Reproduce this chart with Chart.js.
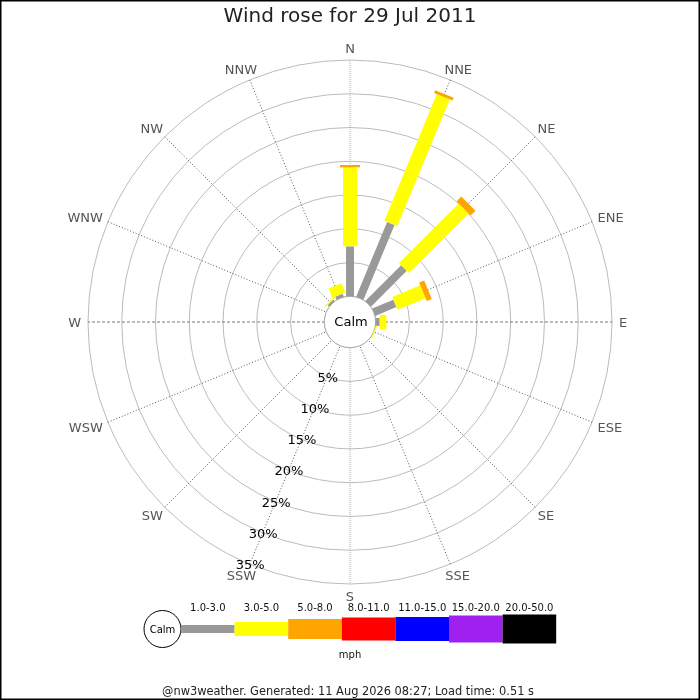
<!DOCTYPE html>
<html>
<head>
<meta charset="utf-8">
<script src="https://cdn.jsdelivr.net/npm/chart.js@4/dist/chart.umd.min.js"></script>
<style>
html,body{margin:0;padding:0;background:#fff;}
#wrap{width:700px;height:700px;position:relative;}
</style>
</head>
<body>
<div id="wrap"><canvas id="c" width="700" height="700"></canvas></div>
<script>
// ---- data ----
const directions = ['N','NNE','NE','ENE','E','ESE','SE','SSE','S','SSW','SW','WSW','W','WNW','NW','NNW'];
const speedBands = ['1.0-3.0','3.0-5.0','5.0-8.0','8.0-11.0','11.0-15.0','15.0-20.0','20.0-50.0'];
const bandColors = ['#999999','#ffff00','#ffa500','#ff0000','#0000ff','#a020f0','#000000'];
// percentage of time per direction, for each speed band (mph)
const band1to3   = [7.4, 12.0, 7.5, 3.4, 0.6, 0,    0, 0, 0, 0, 0, 0, 0, 0, 0.3, 0.5];
const band3to5   = [11.7, 20.3, 12.5, 4.5, 1.0, 0.15, 0, 0, 0, 0, 0, 0, 0, 0, 0.2, 1.5];
const band5to8   = [0.35, 0.45, 1.0, 0.8, 0, 0, 0, 0, 0, 0, 0, 0, 0, 0, 0, 0];
const band8to11  = [0, 0, 0, 0, 0, 0, 0, 0, 0, 0, 0, 0, 0, 0, 0, 0];
const band11to15 = [0, 0, 0, 0, 0, 0, 0, 0, 0, 0, 0, 0, 0, 0, 0, 0];
const band15to20 = [0, 0, 0, 0, 0, 0, 0, 0, 0, 0, 0, 0, 0, 0, 0, 0];
const band20to50 = [0, 0, 0, 0, 0, 0, 0, 0, 0, 0, 0, 0, 0, 0, 0, 0];
const bandData = [band1to3, band3to5, band5to8, band8to11, band11to15, band15to20, band20to50];
const ringTicks = [5, 10, 15, 20, 25, 30, 35];
const titleText = 'Wind rose for 29 Jul 2011';
const unitText = 'mph';
const footerText = '@nw3weather. Generated: 11 Aug 2026 08:27; Load time: 0.51 s';

// ---- styles ----
const bandWidths = [8, 14, 20, 23, 24, 27, 29];
const FONT = "'DejaVu Sans', 'Liberation Sans', sans-serif";

const windPlugin = {
  id: 'windrose',
  afterDatasetsDraw(chart) {
    const s = chart.scales.r;
    const ctx = chart.ctx;
    const R = s.drawingArea;
    ctx.save();
    // calm circle
    const rc = s.getDistanceFromCenterForValue(0);
    ctx.beginPath();
    ctx.arc(s.xCenter, s.yCenter, rc, 0, Math.PI * 2);
    ctx.fillStyle = '#fff';
    ctx.fill();
    ctx.lineWidth = 1;
    ctx.strokeStyle = '#aaa';
    ctx.stroke();
    ctx.fillStyle = '#000';
    ctx.font = '13px ' + FONT;
    ctx.textAlign = 'center';
    ctx.textBaseline = 'middle';
    ctx.fillText('Calm', s.xCenter + 1, s.yCenter + 1);

    // bars
    ctx.lineCap = 'butt';
    directions.forEach((d, i) => {
      let cum = 0;
      bandData.forEach((arr, k) => {
        const v = arr[i];
        if (!v) return;
        const p0 = s.getPointPositionForValue(i, cum);
        cum += v;
        const p1 = s.getPointPositionForValue(i, cum);
        ctx.beginPath();
        ctx.moveTo(p0.x, p0.y);
        ctx.lineTo(p1.x, p1.y);
        ctx.strokeStyle = bandColors[k];
        ctx.lineWidth = bandWidths[k];
        ctx.stroke();
      });
    });

    // direction labels
    ctx.font = '13px ' + FONT;
    ctx.fillStyle = '#555';
    ctx.textAlign = 'center';
    ctx.textBaseline = 'alphabetic';
    const capH = 9.5;
    directions.forEach((d, i) => {
      const p = s.getPointPosition(i, R + 7);
      const a = s.getIndexAngle(i);
      const w = ctx.measureText(d).width;
      const cx = p.x + Math.sin(a) * w / 2;
      const cy = p.y - Math.cos(a) * capH / 2;
      ctx.fillText(d, cx, cy + capH / 2);
    });

    // ring labels along SSW
    ctx.fillStyle = '#000';
    ctx.textBaseline = 'middle';
    const lblIdx = directions.indexOf('SSW');
    ringTicks.forEach(v => {
      const p = s.getPointPositionForValue(lblIdx, v);
      ctx.fillText(v + '%', p.x + 0.5, p.y + 1.5);
    });

    // legend
    const legY = 629;
    const calmX = 162.5, calmR = 18.5;
    ctx.beginPath();
    ctx.arc(calmX, legY, calmR, 0, Math.PI * 2);
    ctx.fillStyle = '#fff';
    ctx.fill();
    ctx.strokeStyle = '#000';
    ctx.lineWidth = 1;
    ctx.stroke();
    ctx.fillStyle = '#000';
    ctx.font = '10px ' + FONT;
    ctx.textAlign = 'center';
    ctx.fillText('Calm', calmX, legY + 1);
    const segW = 53.6;
    const x0 = calmX + calmR;
    speedBands.forEach((b, k) => {
      const x = x0 + k * segW;
      ctx.fillStyle = bandColors[k];
      ctx.fillRect(x, legY - bandWidths[k] / 2, segW, bandWidths[k]);
      ctx.fillStyle = '#111';
      ctx.fillText(b, x + segW / 2, 608);
    });
    ctx.fillText(unitText, 350, 655);
    ctx.font = '11.4px ' + FONT;
    ctx.fillStyle = '#222';
    ctx.fillText(footerText, 348, 692);

    // frame
    ctx.strokeStyle = '#000';
    ctx.lineWidth = 1.5;
    ctx.strokeRect(0.75, 0.75, 698.5, 698.5);
    ctx.restore();
  }
};

const chart = new Chart(document.getElementById('c'), {
  type: 'radar',
  data: {
    labels: directions,
    datasets: speedBands.map((b, k) => ({
      label: b,
      data: bandData[k],
      showLine: false,
      borderWidth: 0,
      pointRadius: 0,
      pointHoverRadius: 0,
      fill: false,
      borderColor: 'rgba(0,0,0,0)',
      backgroundColor: 'rgba(0,0,0,0)'
    }))
  },
  options: {
    responsive: false,
    animation: false,
    devicePixelRatio: 1,
    layout: { padding: { top: 6, left: 88, right: 88, bottom: 116 } },
    plugins: {
      legend: { display: false },
      tooltip: { enabled: false },
      title: {
        display: true,
        text: titleText,
        color: '#222',
        font: { family: FONT, size: 20, weight: 'normal', lineHeight: '22px' },
        padding: { top: 0, bottom: 32 }
      }
    },
    scales: {
      r: {
        min: -3.8,
        max: 35,
        startAngle: 0,
        afterBuildTicks: (scale) => {
          scale.ticks = [0].concat(ringTicks).map(v => ({ value: v }));
        },
        ticks: { display: false },
        pointLabels: { display: false },
        grid: { circular: true, color: '#bbb', lineWidth: 1 },
        angleLines: {
          display: true,
          lineWidth: 1,
          color: (ctx) => (ctx.index % 8 === 0) ? '#aaa' : (ctx.index % 4 === 0 ? '#777' : '#555'),
          borderDash: (ctx) => (ctx.index % 8 === 0) ? [1, 1] : (ctx.index % 4 === 0 ? [3, 2] : [1, 2])
        }
      }
    }
  },
  plugins: [windPlugin]
});
</script>
</body>
</html>
